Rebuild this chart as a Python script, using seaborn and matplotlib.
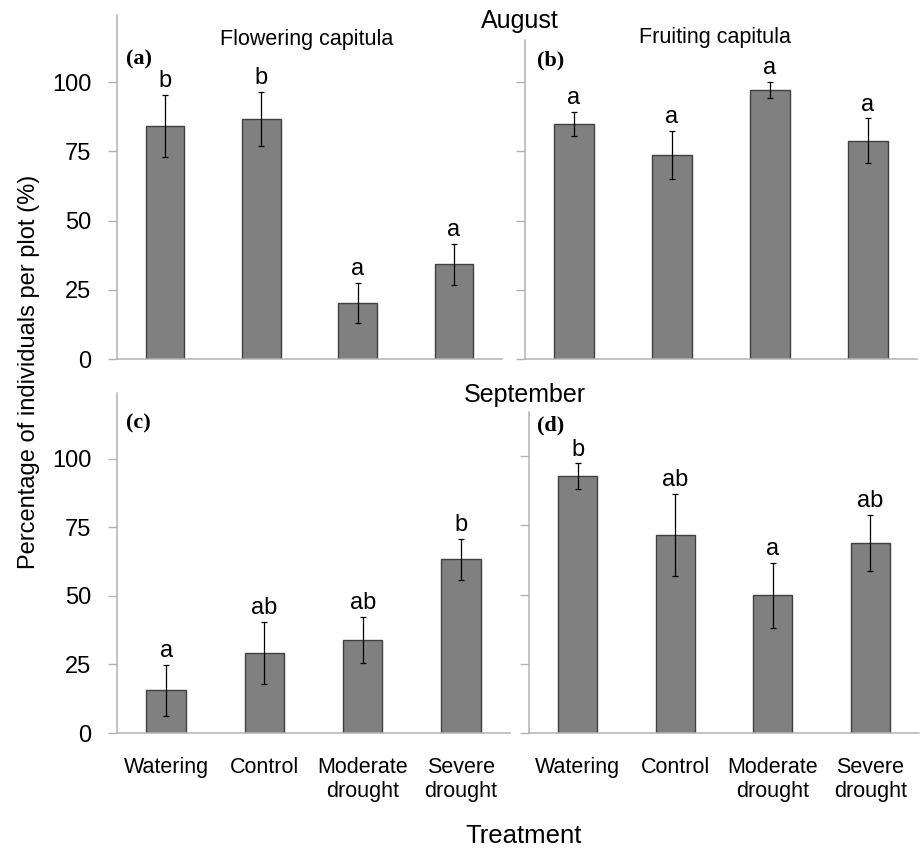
import matplotlib
matplotlib.use("Agg")
import matplotlib.pyplot as plt
import numpy as np
import pandas as pd
import seaborn as sns

# treatments (x categories)
treatments = ["Watering", "Control", "Moderate\ndrought", "Severe\ndrought"]

# (a) August, flowering capitula
aug_flower = [84.1, 86.6, 20.2, 34.2]
aug_flower_se = [11.3, 9.7, 7.2, 7.4]
aug_flower_sig = ["b", "b", "a", "a"]

# (b) August, fruiting capitula
aug_fruit = [84.8, 73.6, 97.2, 78.9]
aug_fruit_se = [4.3, 8.7, 2.9, 8.0]
aug_fruit_sig = ["a", "a", "a", "a"]

# (c) September, flowering capitula
sep_flower = [15.5, 29.3, 33.9, 63.3]
sep_flower_se = [9.2, 11.3, 8.3, 7.5]
sep_flower_sig = ["a", "ab", "ab", "b"]

# (d) September, fruiting capitula
sep_fruit = [92.8, 71.6, 49.7, 68.8]
sep_fruit_se = [4.6, 14.7, 11.8, 10.1]
sep_fruit_sig = ["b", "ab", "a", "ab"]

yticks = [0, 25, 50, 75, 100]

sns.set_style("white")
plt.rcParams['font.family'] = ['Liberation Sans', 'DejaVu Sans']
plt.rcParams['text.color'] = 'black'

W, H = 921, 856
fig = plt.figure(figsize=(W / 100, H / 100), dpi=100)

def px_axes(left, top, right, bottom):
    return fig.add_axes([left / W, 1 - bottom / H, (right - left) / W, (bottom - top) / H])

panels = [
    # axes box in pixels, ylim top, data, se, letters, label, label pos, ytick labels, xtick labels
    ((117, 15, 502, 359), 124.2, aug_flower, aug_flower_se, aug_flower_sig, "(a)", (0.023, 0.87), True, False),
    ((525, 40, 917, 359), 115.2, aug_fruit, aug_fruit_se, aug_fruit_sig, "(b)", (0.03, 0.935), False, False),
    ((117, 393, 510, 733), 123.9, sep_flower, sep_flower_se, sep_flower_sig, "(c)", (0.023, 0.91), True, True),
    ((529, 412, 919, 733), 116.0, sep_fruit, sep_fruit_se, sep_fruit_sig, "(d)", (0.021, 0.958), False, True),
]

grey = "#b3b3b3"
for box, ytop, vals, se, sig, lab, labpos, show_y, show_x in panels:
    ax = px_axes(*box)
    df = pd.DataFrame({"Treatment": treatments, "Value": vals})
    sns.barplot(data=df, x="Treatment", y="Value", ax=ax, color="#808080",
                saturation=1, edgecolor="#404040", linewidth=1.0, width=0.4,
                errorbar=None)
    xs = np.arange(len(vals))
    ax.errorbar(xs, vals, yerr=se, fmt="none", ecolor="black", elinewidth=0.9,
                capsize=2.5, capthick=0.9)
    for x, v, e, s in zip(xs, vals, se, sig):
        ax.annotate(s, (x, v + e), xytext=(0, 2), textcoords="offset points",
                    ha="center", va="bottom", fontsize=17, color="black")
    ax.set_xlim(-0.5, 3.5)
    ax.set_ylim(0, ytop)
    ax.set_yticks(yticks)
    ax.set_xlabel("")
    ax.set_ylabel("")
    for side in ["top", "right"]:
        ax.spines[side].set_visible(False)
    for side in ["left", "bottom"]:
        ax.spines[side].set_color(grey)
        ax.spines[side].set_linewidth(1.1)
    ax.tick_params(axis="y", direction="out", length=6.5, width=1.0, color=grey,
                   labelcolor="black", pad=12, labelsize=17, left=True, labelleft=show_y)
    ax.tick_params(axis="x", length=0, pad=17, labelsize=15.5, labelcolor="black",
                   labelbottom=show_x)
    if show_x:
        for t in ax.get_xticklabels():
            t.set_linespacing(1.2)
    ax.text(labpos[0], labpos[1], lab, transform=ax.transAxes, ha="left", va="center",
            fontsize=16, fontweight="bold", family="Liberation Serif")

fig.text(520 / W, 1 - 21 / H, "August", ha="center", va="center", fontsize=18)
fig.text(525 / W, 1 - 395 / H, "September", ha="center", va="center", fontsize=18)
fig.text(307 / W, 1 - 40 / H, "Flowering capitula", ha="center", va="center", fontsize=15.5)
fig.text(715 / W, 1 - 37 / H, "Fruiting capitula", ha="center", va="center", fontsize=15.5)
fig.text(524 / W, 1 - 836 / H, "Treatment", ha="center", va="center", fontsize=18.5)
fig.text(29 / W, 1 - 372 / H, "Percentage of individuals per plot (%)", ha="center",
         va="center", rotation=90, fontsize=17)

fig.savefig("out.png", dpi=100, facecolor="white")
